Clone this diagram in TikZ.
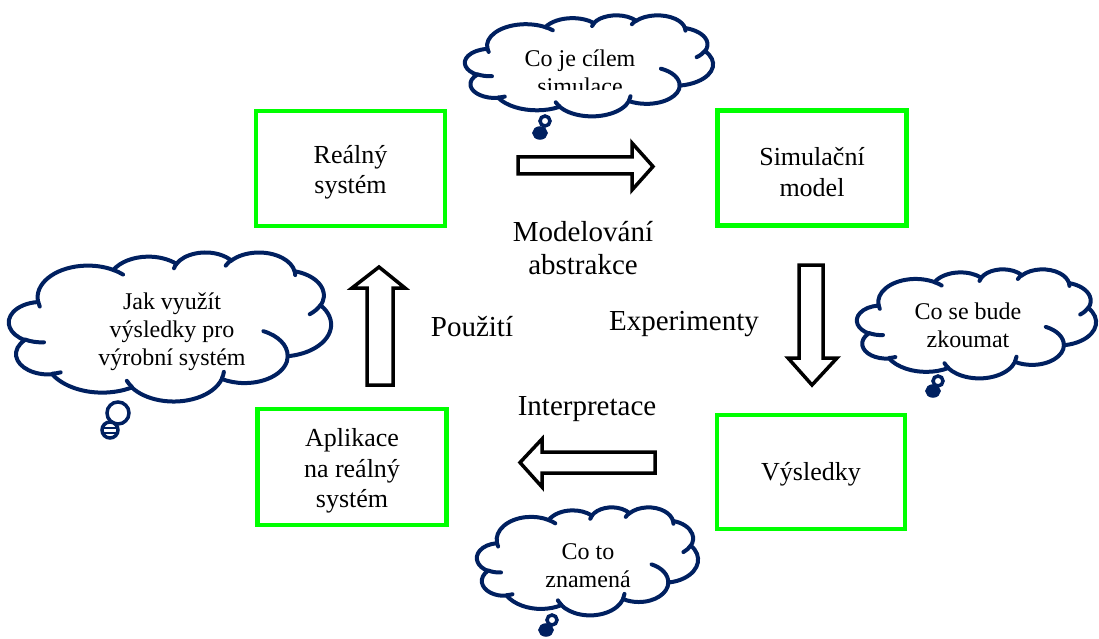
\documentclass[tikz,border=0pt]{standalone}
\usepackage{fontspec}
\setmainfont{Liberation Serif}
\definecolor{navy}{RGB}{0,32,96}
\definecolor{boxgreen}{RGB}{0,255,0}
\newcommand\defarc[5]{%
  \pgfmathsetmacro\tmpts{atan2(#2*sin(#4), #3*cos(#4))}%
  \pgfmathsetmacro\tmpte{atan2(#2*sin(#4+#5), #3*cos(#4+#5))}%
  \pgfmathsetmacro\tmpteb{\tmpts + mod(\tmpte - \tmpts + 720, 360)}%
  \edef\tmpdo{\noexpand\tikzset{#1/.style={start angle=\tmpts, end angle=\tmpteb, x radius=#2, y radius=#3}}}%
  \tmpdo}
% outline arcs (PowerPoint cloud, 432 x 432 units)
\defarc{pcloA}{67.53}{91.90}{-190.4875}{123.7805}
\defarc{pcloB}{53.33}{72.67}{-144.1024}{89.9452}
\defarc{pcloC}{43.65}{59.45}{-145.8079}{99.7230}
\defarc{pcloD}{48.57}{65.95}{-130.9861}{117.2417}
\defarc{pcloE}{53.33}{72.73}{-78.7089}{109.0269}
\defarc{pcloF}{67.75}{92.20}{-46.2673}{130.2690}
\defarc{pcloG}{57.85}{78.67}{0.6250}{114.0333}
\defarc{pcloH}{67.52}{92.15}{22.4516}{115.1726}
\defarc{pcloI}{77.20}{105.43}{66.2426}{75.7110}
\defarc{pcloJ}{43.60}{59.18}{-274.9421}{146.7356}
\defarc{pcloK}{43.45}{59.45}{-246.8285}{152.5189}
% inner lines
\defarc{pclia}{43.45}{59.45}{86.7420}{26.4295}
\defarc{pclib}{43.60}{59.18}{73.6105}{11.4475}
\defarc{pclic}{67.52}{92.15}{137.6242}{14.0811}
\defarc{pclid}{67.52}{92.15}{6.4533}{15.9984}
\defarc{pclie}{57.85}{78.67}{-70.2924}{70.9174}
\defarc{pclif}{53.33}{72.73}{30.3180}{27.7515}
\defarc{pclig}{48.57}{65.95}{-13.7443}{14.8589}
\defarc{pclih}{48.57}{65.95}{-149.1815}{18.1954}
\defarc{pclii}{43.65}{59.45}{-163.4943}{17.6864}
\defarc{pclij}{67.53}{91.90}{-66.7070}{12.3194}
\defarc{pclik}{67.53}{91.90}{157.6544}{11.8582}
\newcommand\pptcloud[4]{% left, top, width, height
  \begin{scope}[shift={(#1,#2)}, x=#3pt/432, y=-#4pt/432]
  \draw[cloudline, fill=white] (39.00,143.70) arc[pcloA] arc[pcloB] arc[pcloC] arc[pcloD] arc[pcloE] arc[pcloF] arc[pcloG] arc[pcloH] arc[pcloI] arc[pcloJ] arc[pcloK] -- cycle;
  \draw[cloudline] (46.93,261.77) arc[pclia] (69.28,348.99) arc[pclib] (164.78,390.90) arc[pclic]
     (288.27,347.51) arc[pclid] (341.29,229.54) arc[pclie] (417.98,153.54) arc[pclif]
     (383.24,54.26) arc[pclig] (290.78,39.52) arc[pclih] (221.41,47.20) arc[pclii]
     (140.00,51.92) arc[pclij] (41.27,157.89) arc[pclik];
  \end{scope}}
\tikzset{
  stepbox/.style={draw=boxgreen, line width=4.5pt, fill=white},
  boxtext/.style={font=\fontsize{26}{30.5}\selectfont, align=center},
  cloudline/.style={draw=navy, line width=4pt, line cap=round},
  thtext/.style={font=\fontsize{24}{28}\selectfont, align=center},
  lbl/.style={font=\fontsize{29}{33}\selectfont, align=center},
  blockarrow/.style={draw=black, line width=3.5pt, fill=white, line join=miter},
  tail/.style={draw=navy, line width=3.5pt},
}
\begin{document}
\begin{tikzpicture}[x=1pt,y=-1pt]
\useasboundingbox (0,0) rectangle (1099,639);
% boxes
\node[stepbox, minimum width=189pt, minimum height=115pt] (real) at (350.5,168.5) {};
\node[boxtext] (realt) at ([yshift=-4pt]real.center) {Reálný\\systém};
\node[stepbox, minimum width=189pt, minimum height=115pt] (sim) at (812,168) {};
\node[boxtext] (simt) at ([yshift=-4pt]sim.center) {Simulační\\model};
\node[stepbox, minimum width=189pt, minimum height=116pt] (apl) at (352,467) {};
\node[boxtext] (aplt) at ([yshift=-4pt]apl.center) {Aplikace\\na reálný\\systém};
\node[stepbox, minimum width=188pt, minimum height=114pt] (vys) at (811,472) {};
\node[boxtext] (vyst) at ([yshift=-2pt]vys.center) {Výsledky};
% block arrows
\draw[blockarrow] (518,157) -- (632,157) -- (632,143) -- (653,166.5) -- (632,190) -- (632,174) -- (518,174) -- cycle;
\draw[blockarrow] (799,265) -- (823,265) -- (823,358) -- (837,358) -- (812,385) -- (788,358) -- (799,358) -- cycle;
\draw[blockarrow] (655,452) -- (542,452) -- (542,439) -- (520,462.5) -- (542,487) -- (542,473) -- (655,473) -- cycle;
\draw[blockarrow] (367,385) -- (367,288) -- (352,288) -- (379,267) -- (405,288) -- (393,288) -- (393,385) -- cycle;
% labels
\node[lbl] (lmod) at (583,248) {Modelování\\abstrakce};
\node[lbl] (lpou) at (472,327) {Použití};
\node[lbl] (lexp) at (684,324) {Experimenty};
\node[lbl] (lint) at (587,409) {Interpretace};
% cloud 1
\pptcloud{465}{15}{248}{101}
\begin{scope}
\clip (480,30) rectangle (700,90);
\node[thtext] (t1) at (580,72) {Co je cílem\\simulace};
\end{scope}
\draw[tail] (545,121) circle (5pt);
\draw[tail, fill=navy] (540,133) ellipse (6pt and 5pt);
% cloud 2
\pptcloud{9}{252}{322}{149}
\node[thtext] (t2) at (172,332) {Jak využít\\výsledky pro\\výrobní systém};
\draw[tail] (118,413) circle (11pt);
\draw[tail, fill=white] (110,430) circle (8pt);
\draw[navy, line width=1.5pt] (104,428) -- (116,428) (104,433) -- (116,433);
% cloud 3
\pptcloud{857}{269}{239}{109}
\node[thtext] (t3) at (968,325) {Co se bude\\zkoumat};
\draw[tail] (938,381) circle (5pt);
\draw[tail, fill=navy] (933,391) ellipse (6pt and 5pt);
% cloud 4
\pptcloud{477}{507}{221}{108}
\node[thtext] (t4) at (588,566) {Co to\\znamená};
\draw[tail] (552,620) circle (5pt);
\draw[tail, fill=navy] (546,630) ellipse (6pt and 5pt);
\end{tikzpicture}
\end{document}
